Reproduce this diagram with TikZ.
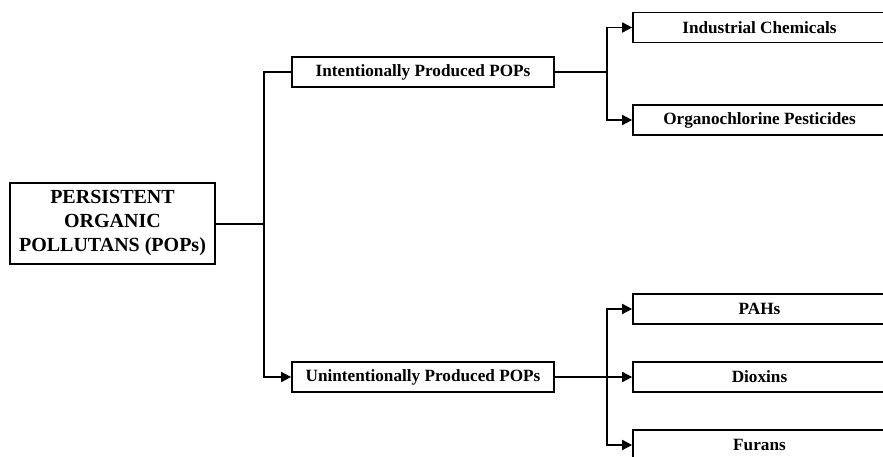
\documentclass[tikz,border=0pt]{standalone}
\usepackage{fontspec}
\setmainfont{Liberation Serif}
\usetikzlibrary{arrows.meta}
\tikzset{
  box/.style={draw, line width=1.7pt, minimum height=30pt, inner sep=0pt, font=\fontsize{17.2}{20}\selectfont\bfseries},
  rbox/.style={box, minimum width=253pt},
  mbox/.style={box, minimum width=262pt},
  link/.style={line width=1.7pt},
  arr/.style={link, -{Triangle[length=10pt,width=10pt]}}
}
\begin{document}
\begin{tikzpicture}[x=1pt,y=-1pt]
\useasboundingbox (0,0) rectangle (883,457);
\clip (0,0) rectangle (883,457);
\node[box, minimum width=205pt, minimum height=81pt, align=center, font=\fontsize{20}{24}\selectfont\bfseries] (main) at (112.5,223.5) {PERSISTENT\\ORGANIC\\POLLUTANS (POPs)};
\node[mbox] (inten) at (423,72) {Intentionally Produced POPs};
\node[mbox] (unint) at (423,377) {Unintentionally Produced POPs};
\node[rbox] (ind) at (759.5,27.5) {Industrial Chemicals};
\node[rbox] (org) at (759.5,120) {Organochlorine Pesticides};
\node[rbox] (pah) at (759.5,309) {PAHs};
\node[rbox] (dio) at (759.5,377) {Dioxins};
\node[rbox] (fur) at (759.5,445) {Furans};
\coordinate (jl) at (265,224);
\coordinate (jr1) at (607,72);
\coordinate (jr2) at (607,377);
\draw[link] (main.east |- jl) -- (jl);
\draw[arr] (inten.west) -- ++(-27,0) |- (unint.west);
\draw[link] (inten.east) -- (jr1);
\draw[arr] (jr1) |- (ind.west);
\draw[arr] (jr1) |- (org.west);
\draw[arr] (unint.east) -- (dio.west);
\draw[arr] (jr2) |- (pah.west);
\draw[arr] (jr2) |- (fur.west);
\end{tikzpicture}
\end{document}
